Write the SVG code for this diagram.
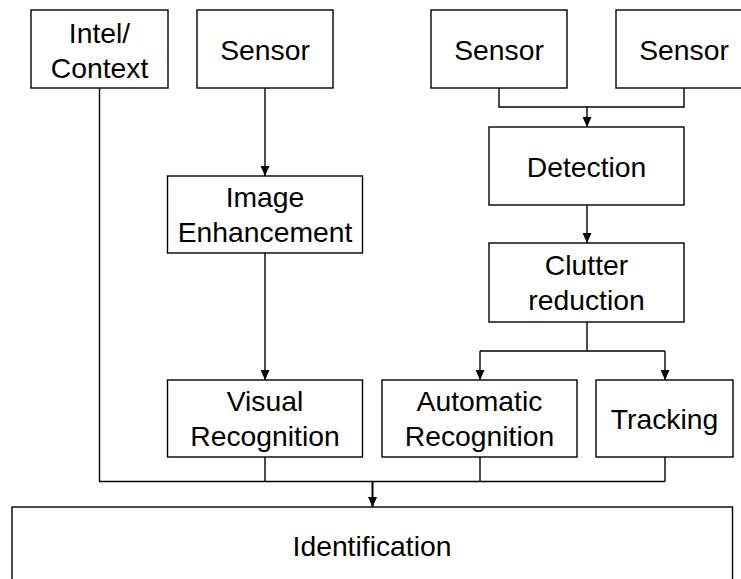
<svg xmlns="http://www.w3.org/2000/svg" width="741" height="579" viewBox="0 0 741 579">
<style>
.box{fill:#fff;stroke:#000;stroke-width:1.4}
.lbl{font-family:"Liberation Sans",Arial,sans-serif;font-size:28.3px;fill:#000;text-anchor:middle}
.ln{fill:none;stroke:#000;stroke-width:1.4}
.arr{marker-end:url(#ah)}
.thick{stroke-width:2}
</style>
<defs>
<marker id="ah" markerUnits="userSpaceOnUse" markerWidth="10" markerHeight="9" refX="10" refY="4.5" orient="auto">
<path d="M0,0 L10,4.5 L0,9 z" fill="#000"/>
</marker>
</defs>
<rect width="741" height="579" fill="#fff"/>
<g id="connectors">
<path class="ln" d="M99.5,88 V481.5 H665"/>
<path class="ln" d="M265,457 V481.5"/>
<path class="ln" d="M480,457 V481.5"/>
<path class="ln" d="M665,457 V481.5"/>
<path class="ln thick arr" d="M372.5,481.5 V507"/>
<path class="ln arr" d="M265,88 V176"/>
<path class="ln arr" d="M265,253 V380"/>
<path class="ln" d="M499,88 V107 H684 V88"/>
<path class="ln arr" d="M587,107 V127"/>
<path class="ln arr" d="M587,205 V243"/>
<path class="ln" d="M587,322 V351 M480,351 H665"/>
<path class="ln arr" d="M480,351 V380"/>
<path class="ln arr" d="M665,351 V380"/>
</g>
<g id="intel"><rect class="box" x="31" y="10" width="137" height="78"/><text class="lbl" x="99.5" y="43">Intel/</text><text class="lbl" x="99.5" y="78">Context</text></g>
<g id="sensor1"><rect class="box" x="197" y="10" width="136" height="78"/><text class="lbl" x="265" y="60">Sensor</text></g>
<g id="sensor2"><rect class="box" x="431" y="10" width="136" height="78"/><text class="lbl" x="499" y="60">Sensor</text></g>
<g id="sensor3"><rect class="box" x="616" y="10" width="140" height="78"/><text class="lbl" x="684" y="60">Sensor</text></g>
<g id="image-enhancement"><rect class="box" x="167.5" y="176" width="195" height="77"/><text class="lbl" x="265" y="207">Image</text><text class="lbl" x="265" y="242">Enhancement</text></g>
<g id="detection"><rect class="box" x="489" y="127" width="195" height="78"/><text class="lbl" x="586.5" y="176.5">Detection</text></g>
<g id="clutter-reduction"><rect class="box" x="489" y="243" width="195" height="79"/><text class="lbl" x="586.5" y="275">Clutter</text><text class="lbl" x="586.5" y="310">reduction</text></g>
<g id="visual-recognition"><rect class="box" x="167.5" y="380" width="195" height="77"/><text class="lbl" x="265" y="411">Visual</text><text class="lbl" x="265" y="446">Recognition</text></g>
<g id="automatic-recognition"><rect class="box" x="382" y="380" width="195" height="77"/><text class="lbl" x="479.5" y="411">Automatic</text><text class="lbl" x="479.5" y="446">Recognition</text></g>
<g id="tracking"><rect class="box" x="596" y="380" width="137" height="77"/><text class="lbl" x="664.5" y="429">Tracking</text></g>
<g id="identification"><rect class="box" x="12" y="507" width="720.5" height="90"/><text class="lbl" x="372" y="556">Identification</text></g>
</svg>
